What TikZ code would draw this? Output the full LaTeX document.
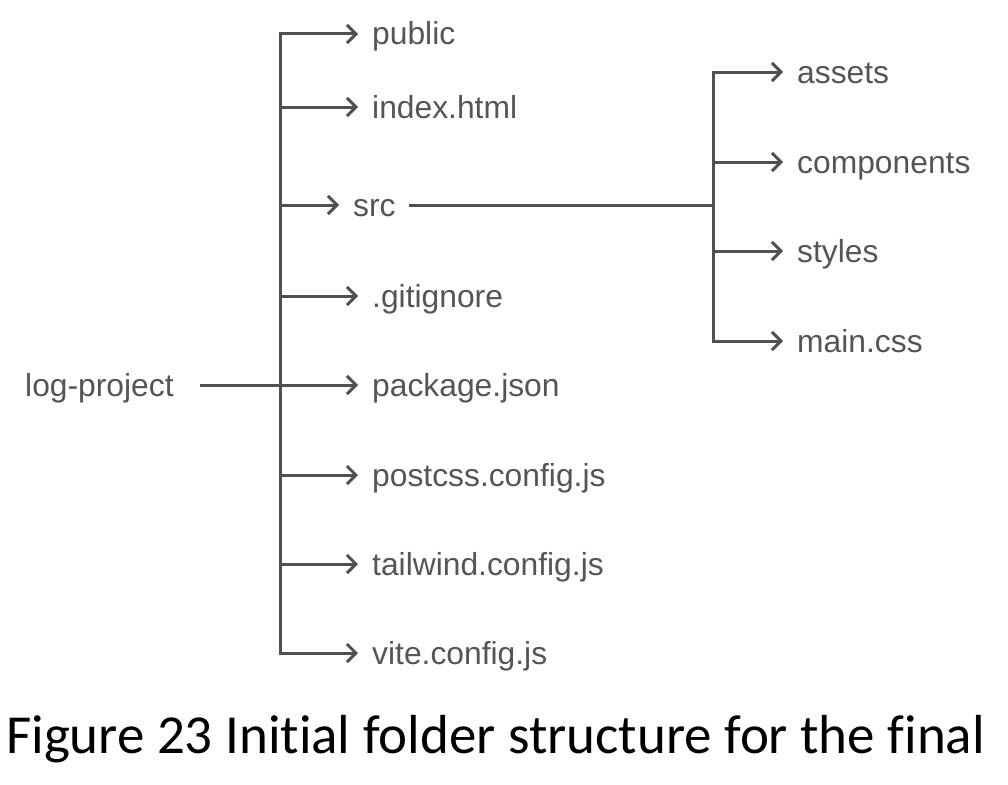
\documentclass[tikz,border=0pt]{standalone}
\usepackage{fontspec}
\setmainfont{Liberation Sans}
\newfontfamily\capfont[Ligatures=NoCommon]{Carlito}
\usetikzlibrary{arrows.meta}
\definecolor{ln}{HTML}{505050}
\definecolor{tx}{HTML}{555555}
\begin{document}
\begin{tikzpicture}[x=1pt,y=-1pt,
  lbl/.style={anchor=base west, inner sep=0pt, text=tx, font=\fontsize{31.8}{36}\selectfont},
  conn/.style={draw=ln, line width=3pt},
  arr/.style={conn, -{Straight Barb[length=9pt,width=18pt]}, shorten >=14pt},
]
\useasboundingbox (0,0) rectangle (1008,784);
% labels
\node[lbl] (lp) at (25,396) {log-project};
\node[lbl] (pub) at (372,45) {public};
\node[lbl] (idx) at (372,118) {index.html};
\node[lbl] (src) at (353,216) {src};
\node[lbl] (git) at (372,307) {.gitignore};
\node[lbl] (pkg) at (372,396) {package.json};
\node[lbl] (pcss) at (372,486) {postcss.config.js};
\node[lbl] (tw) at (372,575) {tailwind.config.js};
\node[lbl] (vite) at (372,664) {vite.config.js};
\node[lbl] (ast) at (797,83) {assets};
\node[lbl] (cmp) at (797,173) {components};
\node[lbl] (sty) at (797,262) {styles};
\node[lbl] (mcss) at (797,352) {main.css};
% trunk coordinates
\coordinate (b1) at (280,34);
\coordinate (b2) at (280,107);
\coordinate (b3) at (280,205);
\coordinate (b4) at (280,296);
\coordinate (b5) at (280,385);
\coordinate (b6) at (280,475);
\coordinate (b7) at (280,564);
\coordinate (b8) at (280,653);
\coordinate (s0) at (713,205);
\coordinate (s1) at (713,72);
\coordinate (s2) at (713,162);
\coordinate (s3) at (713,251);
\coordinate (s4) at (713,341);
% trunks
\draw[conn, line cap=rect] (b1) -- (b8);
\draw[conn, line cap=rect] (s1) -- (s4);
% branches
\draw[arr] (b1) -- (b1 -| pub.west);
\draw[arr] (b2) -- (b2 -| idx.west);
\draw[arr] (b3) -- (b3 -| src.west);
\draw[arr] (b4) -- (b4 -| git.west);
\draw[arr, shorten <=26pt] (b5 -| lp.east) -- (b5 -| pkg.west);
\draw[arr] (b6) -- (b6 -| pcss.west);
\draw[arr] (b7) -- (b7 -| tw.west);
\draw[arr] (b8) -- (b8 -| vite.west);
\draw[conn, shorten <=13pt] (b3 -| src.east) -- (s0);
\draw[arr] (s1) -- (s1 -| ast.west);
\draw[arr] (s2) -- (s2 -| cmp.west);
\draw[arr] (s3) -- (s3 -| sty.west);
\draw[arr] (s4) -- (s4 -| mcss.west);
% caption
\node[anchor=base west, inner sep=0pt, font=\capfont\fontsize{55}{65}\selectfont] (cap) at (6,753) {Figure 23 Initial folder structure for the final};
\end{tikzpicture}
\end{document}
